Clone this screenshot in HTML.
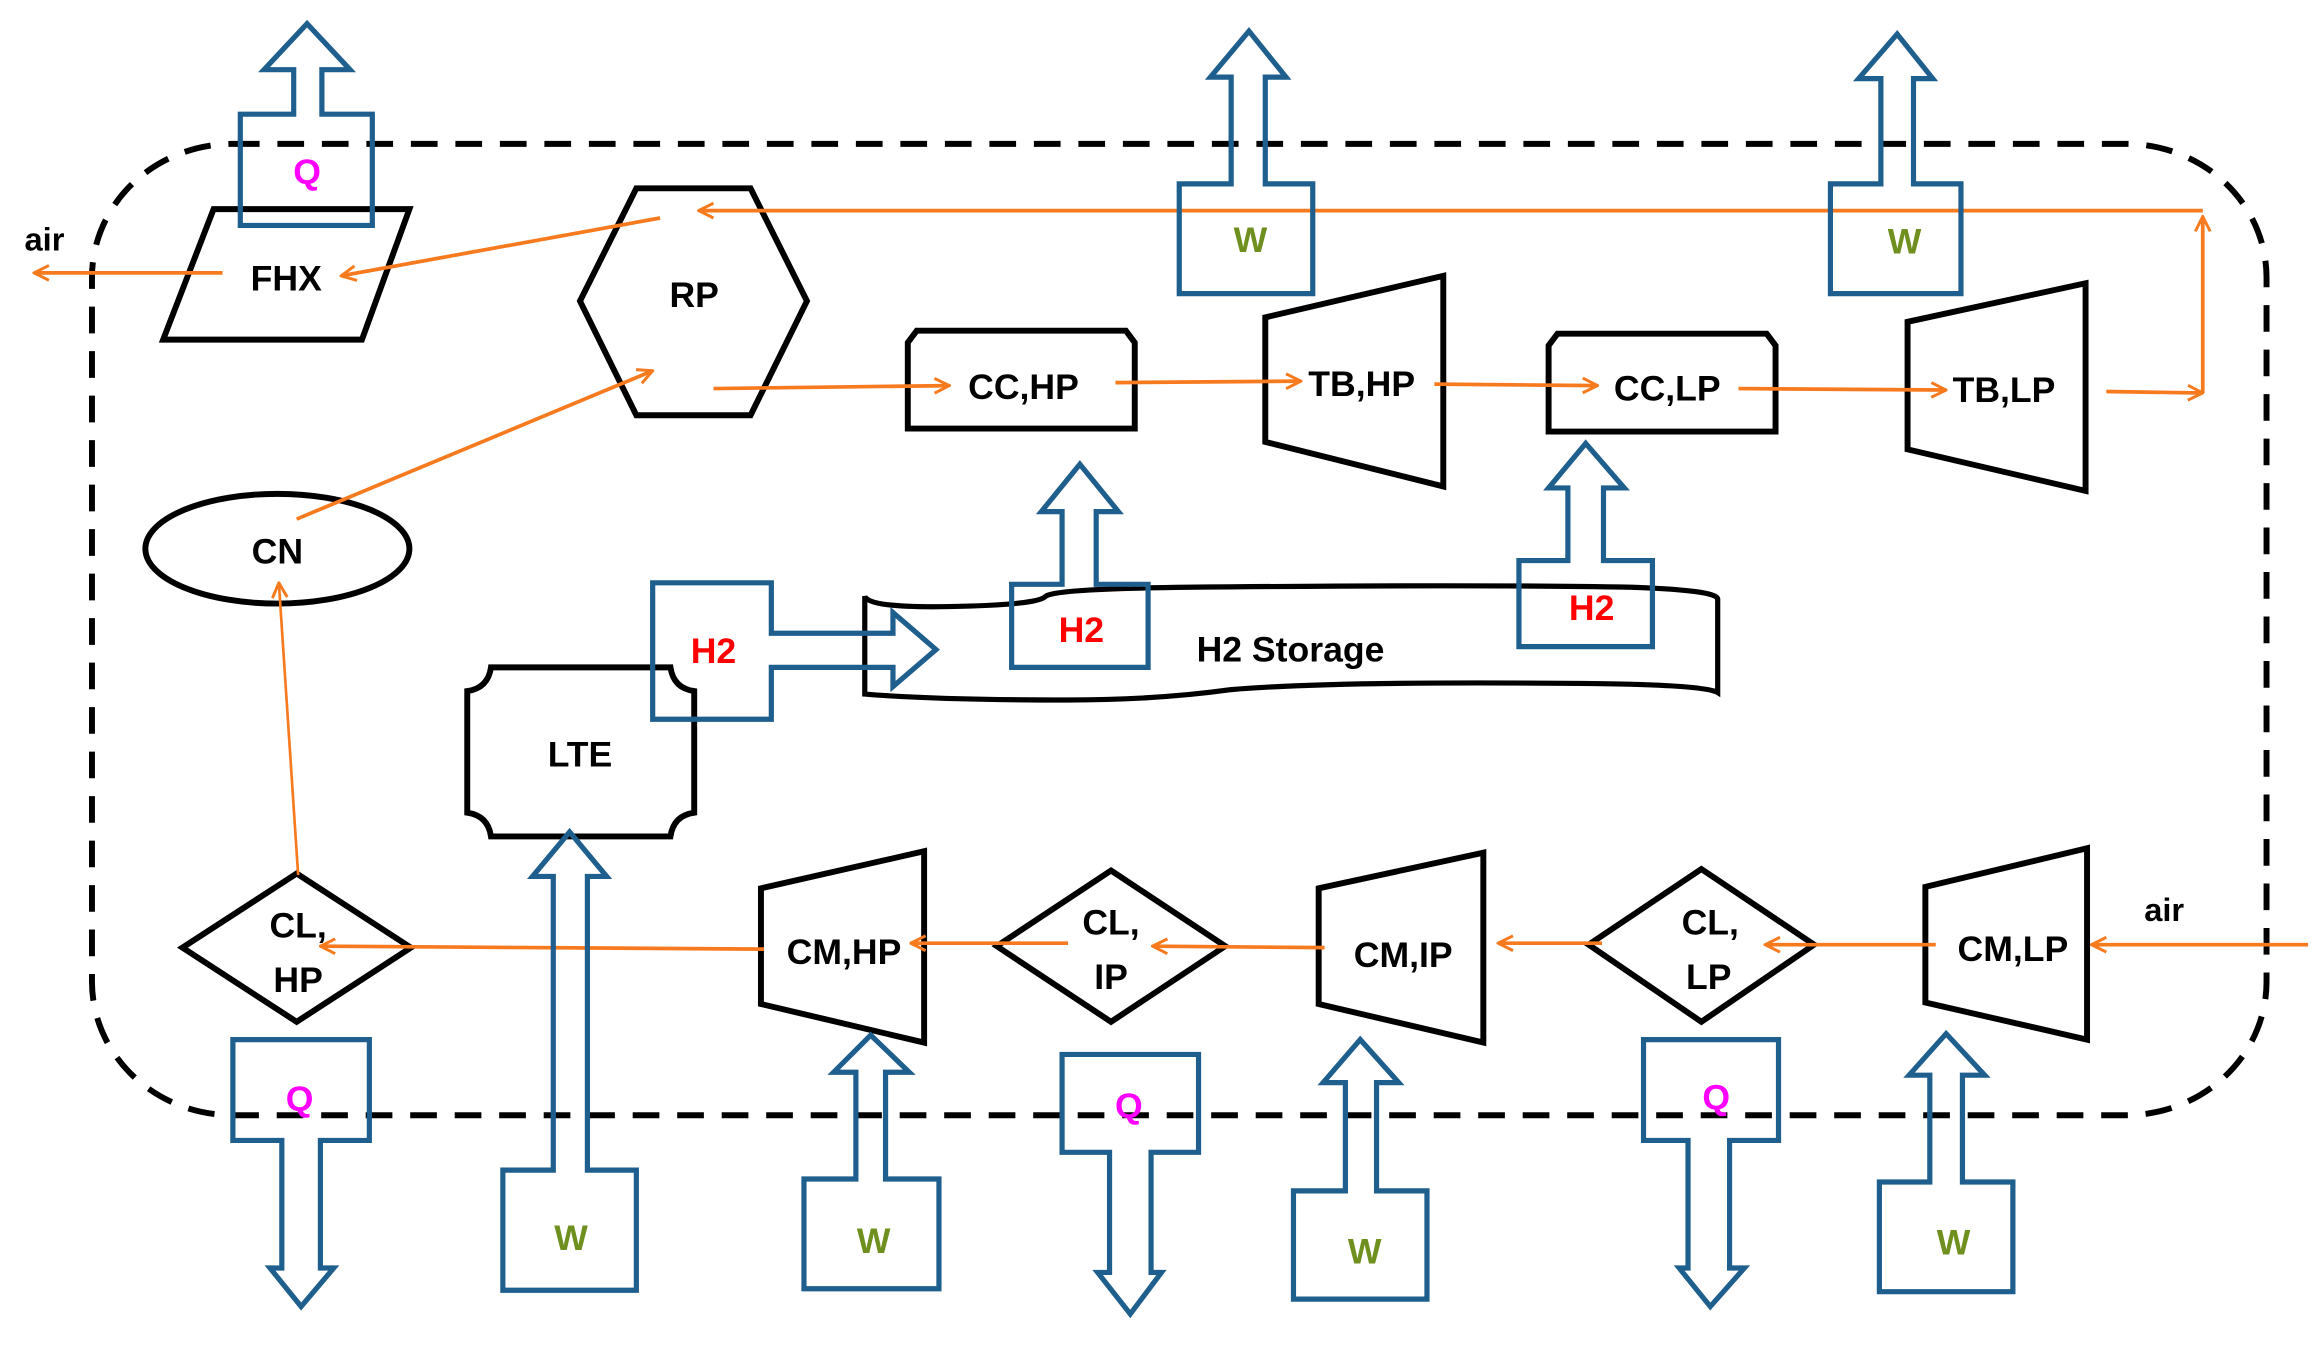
<!DOCTYPE html>
<html><head><meta charset="utf-8"><style>
html,body{margin:0;padding:0;background:#fff;}
svg{display:block;}
text{font-family:"Liberation Sans",sans-serif;font-weight:bold;}
</style></head><body>
<svg width="2314" height="1354" viewBox="0 0 1560 913" preserveAspectRatio="none" xmlns="http://www.w3.org/2000/svg">
<defs>
<marker id="a" viewBox="0 0 12 12" refX="11" refY="6" markerWidth="12" markerHeight="12" markerUnits="userSpaceOnUse" orient="auto">
<path d="M1,1 L11,6 L1,11" fill="none" stroke="#f77a1e" stroke-width="2"/>
</marker>
</defs>
<rect x="62" y="97" width="1466" height="655" rx="95" ry="90" fill="none" stroke="#000" stroke-width="4" stroke-dasharray="18,12"/>

<g fill="none" stroke="#000" stroke-width="4" stroke-linejoin="miter">
<polygon points="144,141 276,141 244,229 110,229"/>
<polygon points="429,127 506,127 544,203 506,280 429,280 391,203"/>
<path d="M612,289 L612,231 L618,223 L759,223 L765,231 L765,289 Z"/>
<polygon points="853,214 973,186 973,328 853,298"/>
<path d="M1044,291 L1044,233 L1050,225 L1191,225 L1197,233 L1197,291 Z"/>
<polygon points="1286,217 1406,191 1406,331 1286,303"/>
<ellipse cx="187" cy="370" rx="89" ry="37"/>
<path d="M583,402 Q585,410 640,409 Q700,408 705,402 Q712,397 800,396 Q1000,394 1100,396 Q1158,398 1158,404 L1158,467 Q1150,462 1080,461 Q900,459 830,465 Q780,472 720,472 Q630,472 583,468 Z" stroke-width="3.5"/>
<path d="M331,450 L452,450 Q454,464 468,466 L468,548 Q454,550 452,564 L331,564 Q329,550 315,548 L315,466 Q329,464 331,450 Z"/>
<polygon points="200,589 277,639 200,689 123,639"/>
<polygon points="749,587 826,638 749,689 672,638"/>
<polygon points="1147,586 1223,637 1147,689 1071,637"/>
<polygon points="513,599 623,574 623,703 513,677"/>
<polygon points="889,599 1000,575 1000,703 889,677"/>
<polygon points="1298,598 1407,572 1407,701 1298,676"/>
</g>

<g fill="none" stroke="#f77a1e" stroke-width="2.5" marker-end="url(#a)">
<line x1="1485" y1="142" x2="471" y2="142"/>
<line x1="1485" y1="265" x2="1485" y2="146"/>
<line x1="445" y1="147" x2="230" y2="186"/>
<line x1="150" y1="184" x2="23" y2="184"/>
<line x1="200" y1="350" x2="440" y2="250"/>
<line x1="481" y1="262" x2="640" y2="260"/>
<line x1="752" y1="258" x2="877" y2="257"/>
<line x1="967" y1="259" x2="1077" y2="260"/>
<line x1="1172" y1="262" x2="1312" y2="263"/>
<line x1="1420" y1="264" x2="1485" y2="265"/>
<line x1="1556" y1="637" x2="1410" y2="637"/>
<line x1="1305" y1="637" x2="1190" y2="637"/>
<line x1="1080" y1="636" x2="1010" y2="636"/>
<line x1="893" y1="639" x2="777" y2="638"/>
<line x1="720" y1="636" x2="614" y2="636"/>
<line x1="515" y1="640" x2="216" y2="638"/>
<line x1="201" y1="590" x2="188" y2="393" stroke-width="1.8"/>
</g>

<g fill="none" stroke="#1f5f8e" stroke-width="3.5" stroke-linejoin="miter">
<path d="M162,77 L198,77 L198,47 L178,47 L207,16 L236,47 L217,47 L217,77 L251,77 L251,152 L162,152 Z"/>
<path d="M795,124 L830,124 L830,52 L816,52 L842,21 L867,52 L853,52 L853,124 L885,124 L885,198 L795,198 Z"/>
<path d="M1234,124 L1268,124 L1268,53 L1253,53 L1279,23 L1303,53 L1290,53 L1290,124 L1322,124 L1322,198 L1234,198 Z"/>
<path d="M440,393 L520,393 L520,427 L602,427 L602,413 L631,438 L602,463 L602,450 L520,450 L520,485 L440,485 Z"/>
<path d="M682,394 L716,394 L716,345 L702,345 L728,313 L754,345 L739,345 L739,394 L774,394 L774,450 L682,450 Z"/>
<path d="M1024,378 L1057,378 L1057,329 L1044,329 L1069,299 L1095,329 L1081,329 L1081,378 L1114,378 L1114,436 L1024,436 Z"/>
<path d="M157,701 L249,701 L249,769 L216,769 L216,855 L225,855 L203,881 L182,855 L190,855 L190,769 L157,769 Z"/>
<path d="M716,711 L808,711 L808,777 L776,777 L776,858 L783,858 L762,886 L740,858 L748,858 L748,777 L716,777 Z"/>
<path d="M1108,701 L1199,701 L1199,769 L1166,769 L1166,855 L1176,855 L1153,881 L1132,855 L1138,855 L1138,769 L1108,769 Z"/>
<path d="M339,870 L429,870 L429,789 L396,789 L396,591 L409,591 L384,561 L359,591 L373,591 L373,789 L339,789 Z"/>
<path d="M542,869 L633,869 L633,795 L597,795 L597,723 L613,723 L587,698 L562,723 L577,723 L577,795 L542,795 Z"/>
<path d="M872,876 L962,876 L962,803 L928,803 L928,730 L943,730 L917,701 L892,730 L907,730 L907,803 L872,803 Z"/>
<path d="M1267,871 L1357,871 L1357,797 L1323,797 L1323,725 L1338,725 L1312,697 L1287,725 L1301,725 L1301,797 L1267,797 Z"/>
</g>

<g font-size="24" fill="#000" text-anchor="middle">
<text x="193" y="196">FHX</text>
<text x="468" y="207">RP</text>
<text x="690" y="269">CC,HP</text>
<text x="918" y="267">TB,HP</text>
<text x="1124" y="270">CC,LP</text>
<text x="1351" y="271">TB,LP</text>
<text x="187" y="380">CN</text>
<text x="391" y="517">LTE</text>
<text x="870" y="446">H2 Storage</text>
<text x="201" y="632">CL,</text>
<text x="201" y="669">HP</text>
<text x="749" y="630">CL,</text>
<text x="749" y="667">IP</text>
<text x="1153" y="630">CL,</text>
<text x="1152" y="667">LP</text>
<text x="569" y="650">CM,HP</text>
<text x="946" y="652">CM,IP</text>
<text x="1357" y="648">CM,LP</text>
<text x="30" y="169" font-size="22">air</text>
<text x="1459" y="621" font-size="22">air</text>
</g>
<g font-size="24" text-anchor="middle">
<text x="207" y="124" fill="#ff00ff">Q</text>
<text x="202" y="749" fill="#ff00ff">Q</text>
<text x="761" y="754" fill="#ff00ff">Q</text>
<text x="1157" y="748" fill="#ff00ff">Q</text>
<text x="843" y="170" fill="#6f8f1f" font-weight="normal">W</text>
<text x="1284" y="171" fill="#6f8f1f" font-weight="normal">W</text>
<text x="385" y="843" fill="#6f8f1f" font-weight="normal">W</text>
<text x="589" y="845" fill="#6f8f1f" font-weight="normal">W</text>
<text x="920" y="852" fill="#6f8f1f" font-weight="normal">W</text>
<text x="1317" y="846" fill="#6f8f1f" font-weight="normal">W</text>
<text x="481" y="447" fill="#ff0000">H2</text>
<text x="729" y="433" fill="#ff0000">H2</text>
<text x="1073" y="418" fill="#ff0000">H2</text>
</g>
</svg>
</body></html>
